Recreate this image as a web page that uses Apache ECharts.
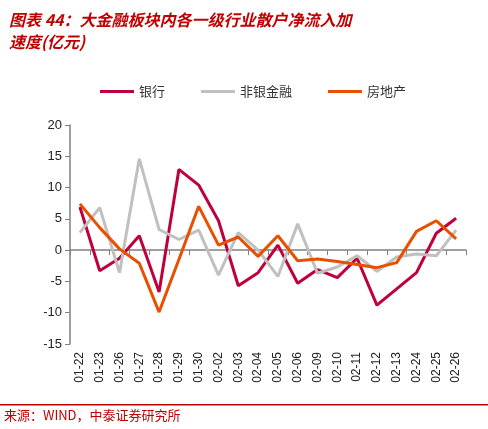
<!DOCTYPE html>
<html><head><meta charset="utf-8">
<script src="https://cdn.jsdelivr.net/npm/echarts@6/dist/echarts.min.js"></script>
<style>body{margin:0;background:#fff}#c{width:488px;height:429px}</style>
</head><body><div id="c"></div>
<script>
const categories=['01-22','01-23','01-26','01-27','01-28','01-29','01-30','02-02','02-03','02-04','02-05','02-06','02-09','02-10','02-11','02-12','02-13','02-24','02-25','02-26'];
const bank=[6.9,-3.3,-1.3,2.3,-6.7,12.9,10.4,4.7,-5.7,-3.6,0.8,-5.3,-3.1,-4.4,-1.3,-8.8,-6.2,-3.6,2.7,5.1];
const nonbank=[2.8,6.8,-3.6,14.6,3.3,1.7,3.2,-4.0,2.8,0,-4.2,4.2,-3.7,-2.7,-0.9,-3.4,-1.1,-0.6,-0.9,3.2];
const realty=[7.4,3.6,0.2,-2.1,-9.9,-1.5,7.0,0.8,2.1,-1.0,2.3,-1.7,-1.4,-1.8,-2.3,-2.8,-2.0,3.0,4.7,1.8];
const yTicks={min:-15,max:20,interval:5};
const chart=echarts.init(document.getElementById('c'));
const font='"Noto Sans CJK SC", sans-serif';
chart.setOption({
  animation:false,
  title:{text:'图表 44：大金融板块内各一级行业散户净流入加\n速度(亿元)',left:4,top:4,textStyle:{color:'#C00000',fontSize:16,fontWeight:'bold',fontStyle:'italic',fontFamily:font,lineHeight:22}},
  graphic:[
    {type:'text',left:4,top:409,style:{text:'来源：WIND，中泰证券研究所',fill:'#C00000',font:'13px '+font}},
    {type:'rect',shape:{x:0,y:404,width:488,height:1.5},style:{fill:'#C00000'}}
  ],
  legend:{top:80,left:95,itemWidth:34,itemGap:36,icon:'rect',itemHeight:3,textStyle:{fontSize:13,color:'#333',fontFamily:font},
    data:['银行','非银金融','房地产']},
  grid:{left:70,right:22,top:125,bottom:85},
  xAxis:{type:'category',data:categories,boundaryGap:true,
    axisLine:{onZero:true,lineStyle:{color:'#808080',width:1.5}},
    axisTick:{show:true,inside:false,lineStyle:{color:'#808080'}},
    axisLabel:{rotate:90,interval:0,color:'#222',fontSize:12,fontFamily:'Arial, "Liberation Sans"',margin:8}},
  yAxis:{type:'value',...yTicks,splitLine:{show:false},
    axisLine:{show:true,lineStyle:{color:'#808080',width:1.5}},axisTick:{show:true,lineStyle:{color:'#808080'}},
    axisLabel:{color:'#222',fontSize:13,fontFamily:'Arial, "Liberation Sans"'}},
  series:[
    {name:'银行',type:'line',data:bank,symbol:'none',lineStyle:{width:3,color:'#C0003C'},itemStyle:{color:'#C0003C'}},
    {name:'非银金融',type:'line',data:nonbank,symbol:'none',lineStyle:{width:3,color:'#C0C0C0'},itemStyle:{color:'#C0C0C0'}},
    {name:'房地产',type:'line',data:realty,symbol:'none',lineStyle:{width:3,color:'#E85000'},itemStyle:{color:'#E85000'}}
  ]
});
</script></body></html>
